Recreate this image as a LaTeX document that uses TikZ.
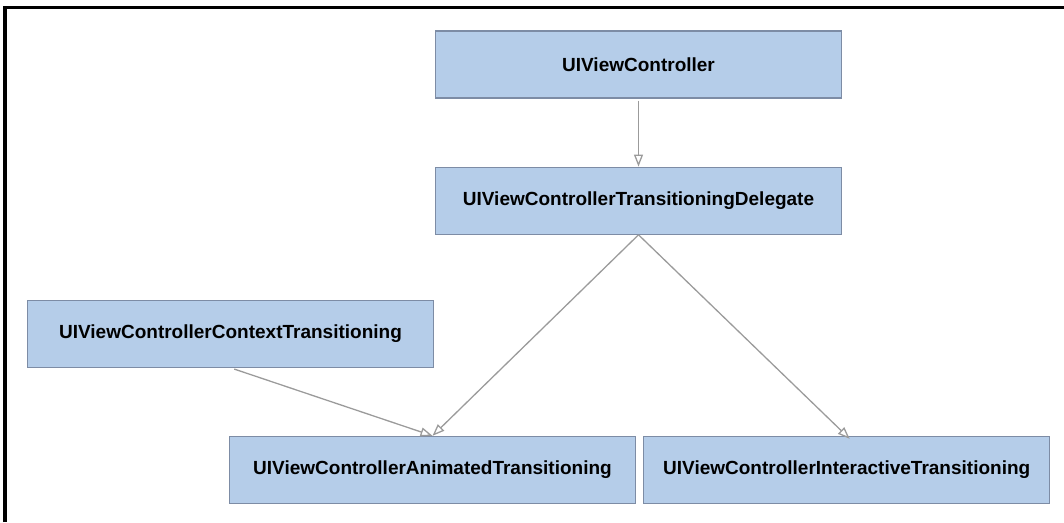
\documentclass[tikz,border=0pt]{standalone}
\usepackage{fontspec}
\setmainfont{Liberation Sans}
\usetikzlibrary{arrows.meta,positioning}
\definecolor{clsfill}{RGB}{181,205,233}
\definecolor{clsedge}{RGB}{125,140,165}
\definecolor{linkgray}{RGB}{155,155,155}

\begin{document}
\begin{tikzpicture}[x=1pt,y=-1pt,font=\fontsize{19}{22}\selectfont\bfseries,
    cls/.style={draw=clsedge,line width=1.2pt,fill=clsfill,minimum width=406pt,minimum height=67pt,inner sep=0pt},
    link/.style={draw=linkgray,line width=1.3pt,-{Triangle[open,length=12pt,width=9pt]}}]
    \useasboundingbox (0,0) rectangle (1064,522);
    \draw[line width=3.2pt] (5,522) -- (5,7.5) -- (1064,7.5);
    \node[cls] (vc) at (638.5,64.5) {UIViewController};
    \node[cls,below=68pt of vc] (del) {UIViewControllerTransitioningDelegate};
    \node[cls,below=201pt of del,xshift=-206pt] (anim) {UIViewControllerAnimatedTransitioning};
    \node[cls,right=7pt of anim] (inter) {UIViewControllerInteractiveTransitioning};
    \node[cls,above=68pt of anim,xshift=-202pt] (ctx) {UIViewControllerContextTransitioning};
    \draw[link,shorten <=2pt] (vc) -- (del);
    \draw[link] (del.south) -- (anim.north);
    \draw[link] (del.south) -- ([xshift=3pt,yshift=-3pt]inter.north);
    \draw[link,shorten <=4pt] (ctx.south) -- (anim.north);
  \end{tikzpicture}
\end{document}
